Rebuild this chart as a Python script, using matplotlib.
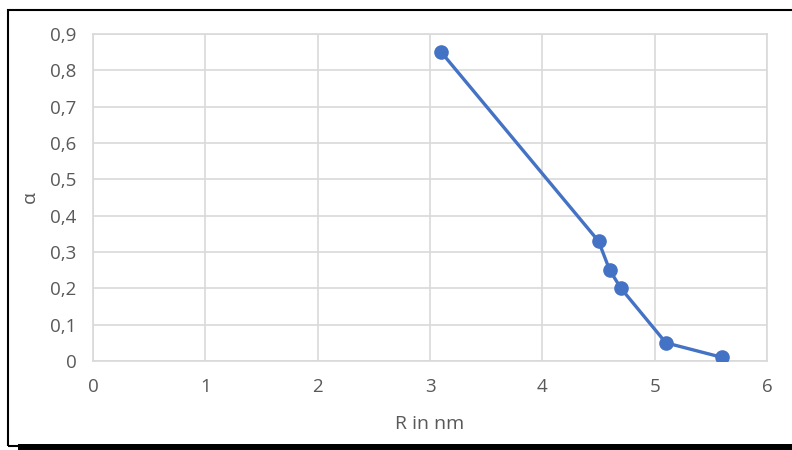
import matplotlib.pyplot as plt
from matplotlib.patches import Rectangle
from matplotlib.ticker import FuncFormatter

# data
r_nm = [3.1, 4.5, 4.6, 4.7, 5.1, 5.6]
alpha = [0.85, 0.33, 0.25, 0.2, 0.05, 0.01]
x_ticks = [0, 1, 2, 3, 4, 5, 6]
y_ticks = [0, 0.1, 0.2, 0.3, 0.4, 0.5, 0.6, 0.7, 0.8, 0.9]

plt.rcParams['font.family'] = ['Open Sans', 'DejaVu Sans']
text_col = "#595959"
blue = "#4472C4"

W, H = 792, 450
fig = plt.figure(figsize=(W / 100, H / 100), dpi=100)

# outer frame with shadow
fig.patches.append(Rectangle((8 / W, 1 - 446 / H), 800 / W, 436 / H, transform=fig.transFigure,
                             fill=False, edgecolor="black", lw=1.5))
fig.patches.append(Rectangle((18 / W, 0), 800 / W, 6 / H, transform=fig.transFigure,
                             facecolor="black", edgecolor="none"))

ax = fig.add_axes([93 / W, 1 - 361 / H, (767 - 93) / W, (361 - 34) / H])
ax.plot(r_nm, alpha, color=blue, lw=2.4, marker="o", ms=9.5, zorder=3)

ax.set_xlim(0, 6)
ax.set_ylim(0, 0.9)
ax.set_xticks(x_ticks)
ax.set_yticks(y_ticks)
fmt = FuncFormatter(lambda v, p: ("%g" % round(v, 2)).replace(".", ","))
ax.xaxis.set_major_formatter(fmt)
ax.yaxis.set_major_formatter(fmt)
ax.grid(color="#D9D9D9", lw=1.2)
ax.set_axisbelow(True)
for s in ax.spines.values():
    s.set_color("#D9D9D9")
    s.set_linewidth(1.2)
ax.tick_params(length=0, colors=text_col, labelsize=13.5, pad=12)

ax.set_xlabel("R in nm", color=text_col, fontsize=14, labelpad=14)
ax.set_ylabel("α", color=text_col, fontsize=14, labelpad=8)

fig.savefig("out.png", dpi=100)
